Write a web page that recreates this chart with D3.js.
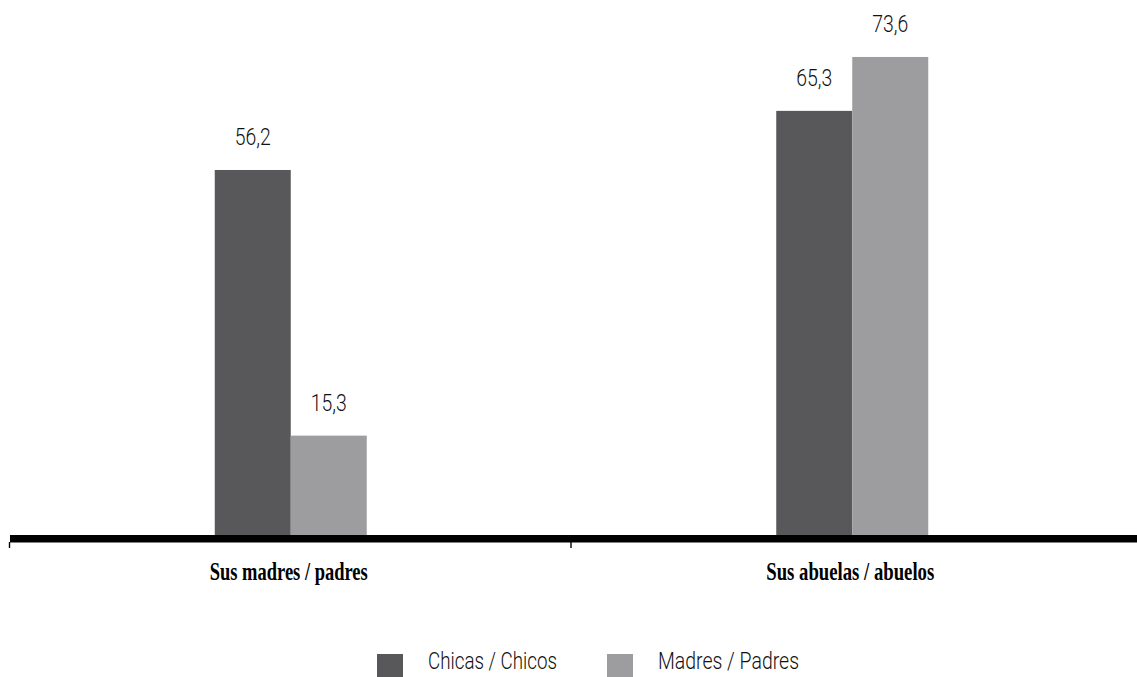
<!DOCTYPE html>
<html><head><meta charset="utf-8">
<script src="https://cdn.jsdelivr.net/npm/d3@7"></script>
<style>
html,body{margin:0;padding:0;background:#fff;}
svg{display:block;}
</style></head>
<body>
<svg id="chart" width="1137" height="677"></svg>
<script>
const categories = ["Sus madres / padres", "Sus abuelas / abuelos"];
const seriesNames = ["Chicas / Chicos", "Madres / Padres"];
const chicasChicos = [56.2, 65.3];
const madresPadres = [15.3, 73.6];
const valueLabels = [["56,2", "65,3"], ["15,3", "73,6"]];
const colors = ["#58585a", "#9d9d9f"];

const svg = d3.select("#chart");
const baseY = 535;
const y = d3.scaleLinear().domain([0, 80]).range([baseY, baseY - 80 * 6.495]);
const x0 = d3.scaleBand().domain(categories).range([10, 1133]).padding(0);
const groupW = 152;
const x1 = d3.scaleBand().domain(seriesNames).range([0, groupW]).padding(0);
const seriesValues = [chicasChicos, madresPadres];

const catFont = "'Liberation Serif','Times New Roman',serif";
const numFont = "Roboto,'Liberation Sans',sans-serif";

categories.forEach((c, ci) => {
  const gx = x0(c) + (x0.bandwidth() - groupW) / 2;
  seriesNames.forEach((s, si) => {
    const v = seriesValues[si][ci];
    svg.append("rect")
      .attr("x", gx + x1(s))
      .attr("y", y(v))
      .attr("width", x1.bandwidth())
      .attr("height", baseY - y(v))
      .attr("fill", colors[si]);
    svg.append("text")
      .attr("x", gx + x1(s) + x1.bandwidth() / 2)
      .attr("y", y(v) - 25)
      .attr("text-anchor", "middle")
      .attr("font-family", numFont)
      .attr("font-weight", 300)
      .attr("font-size", 23)
      .attr("textLength", 36)
      .attr("lengthAdjust", "spacingAndGlyphs")
      .attr("fill", "#111")
      .text(valueLabels[si][ci]);
  });
});

// axis line
const axisG = svg.append("g");
axisG.append("line")
  .attr("x1", x0.range()[0]).attr("x2", 1137)
  .attr("y1", baseY + 3.8).attr("y2", baseY + 3.8)
  .attr("stroke", "#000").attr("stroke-width", 7.6);
// ticks at band boundaries
const tickXs = categories.map(c => x0(c));
axisG.selectAll("line.tick").data(tickXs).enter().append("line")
  .attr("class", "tick")
  .attr("x1", d => d - 0.5).attr("x2", d => d - 0.5)
  .attr("y1", baseY + 7).attr("y2", baseY + 13)
  .attr("stroke", "#000").attr("stroke-width", 1.4);

// category labels
const catWidths = [158, 168];
categories.forEach((c, i) => {
  svg.append("text")
    .attr("x", x0(c) + x0.bandwidth() / 2 - 2)
    .attr("y", 580)
    .attr("text-anchor", "middle")
    .attr("font-family", catFont)
    .attr("font-weight", "bold")
    .attr("font-size", 26)
    .attr("textLength", catWidths[i])
    .attr("lengthAdjust", "spacingAndGlyphs")
    .attr("fill", "#000")
    .text(c);
});

// legend
const legendX = [377, 607];
const legendW = [129, 141];
seriesNames.forEach((s, i) => {
  svg.append("rect")
    .attr("x", legendX[i]).attr("y", 654)
    .attr("width", 26).attr("height", 26)
    .attr("fill", colors[i]);
  svg.append("text")
    .attr("x", legendX[i] + 51)
    .attr("y", 669)
    .attr("font-family", numFont)
    .attr("font-weight", 300)
    .attr("font-size", 23)
    .attr("textLength", legendW[i])
    .attr("lengthAdjust", "spacingAndGlyphs")
    .attr("fill", "#111")
    .text(s);
});
</script>
</body></html>
